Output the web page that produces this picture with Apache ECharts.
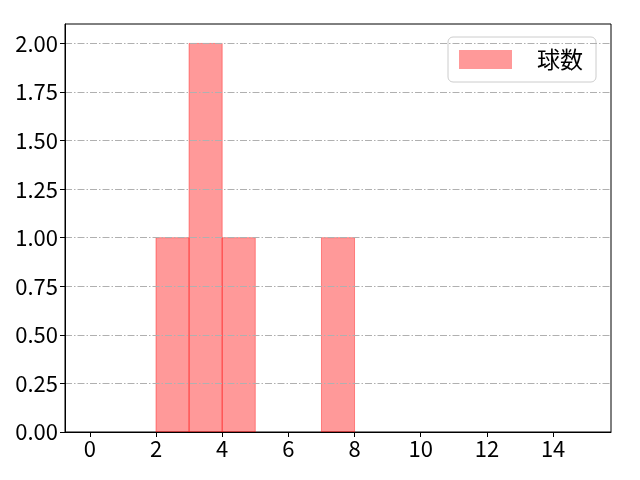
<!DOCTYPE html>
<html>
<head>
<meta charset="utf-8">
<script src="https://cdn.jsdelivr.net/npm/echarts@6/dist/echarts.min.js"></script>
<style>
html, body { margin: 0; padding: 0; background: #fff; }
#con { width: 640px; height: 480px; }
</style>
</head>
<body>
<div id="con"></div>
<script>
// histogram bins: [left edge, right edge, count]
var binStart = [2, 3, 4, 7];
var binEnd = [3, 4, 5, 8];
var counts = [1, 2, 1, 1];
var seriesName = '球数';
var xTicks = [0, 2, 4, 6, 8, 10, 12, 14];
var yTicks = [0, 0.25, 0.5, 0.75, 1, 1.25, 1.5, 1.75, 2];

var data = [];
for (var i = 0; i < counts.length; i++) {
    data.push([binStart[i], binEnd[i], counts[i]]);
}

var font = '"Noto Sans CJK JP", "DejaVu Sans", sans-serif';
var myChart = echarts.init(document.getElementById('con'), null, {renderer: 'canvas'});

var option = {
    animation: false,
    grid: {
        left: 65, right: 29, top: 24, bottom: 48,
        show: true, borderColor: '#000', borderWidth: 1
    },
    legend: {
        right: 44,
        top: 37,
        padding: [11, 13, 11, 11],
        itemWidth: 53,
        itemHeight: 19,
        borderColor: '#cccccc',
        borderWidth: 1,
        borderRadius: 5,
        backgroundColor: 'rgba(255,255,255,0.8)',
        textStyle: { fontFamily: font, fontSize: 23, color: '#000', padding: [0, 0, 0, 20] },
        data: [{ name: seriesName, icon: 'rect' }]
    },
    xAxis: {
        type: 'value',
        min: -0.75,
        max: 15.75,
        z: 6,
        axisLine: { onZero: false, lineStyle: { color: '#000', width: 1 } },
        axisTick: { show: true, length: 5, customValues: xTicks, lineStyle: { color: '#000' } },
        axisLabel: { customValues: xTicks, fontFamily: font, fontSize: 22, color: '#000', margin: 6 },
        splitLine: { show: false }
    },
    yAxis: {
        type: 'value',
        min: 0,
        max: 2.1,
        z: 5,
        axisLine: { show: true, onZero: false, lineStyle: { color: '#000', width: 1 } },
        axisTick: { show: true, length: 5, customValues: yTicks, lineStyle: { color: '#000' } },
        axisLabel: {
            customValues: yTicks, fontFamily: font, fontSize: 22, color: '#000', margin: 7,
            formatter: function (v) { return v.toFixed(2); }
        },
        splitLine: {
            show: true,
            lineStyle: { color: '#b0b0b0', width: 1, type: [7, 2, 1.5, 2] }
        }
    },
    series: [{
        name: seriesName,
        type: 'custom',
        itemStyle: { color: 'rgba(255,0,0,0.4)' },
        renderItem: function (params, api) {
            var p0 = api.coord([api.value(0), api.value(2)]);
            var p1 = api.coord([api.value(1), 0]);
            return {
                type: 'rect',
                shape: { x: p0[0], y: p0[1], width: p1[0] - p0[0], height: p1[1] - p0[1] },
                style: { fill: 'rgba(255,0,0,0.4)', stroke: 'rgba(255,0,0,0.4)', lineWidth: 1 }
            };
        },
        encode: { x: [0, 1], y: 2 },
        data: data
    }]
};
myChart.setOption(option);
</script>
</body>
</html>
